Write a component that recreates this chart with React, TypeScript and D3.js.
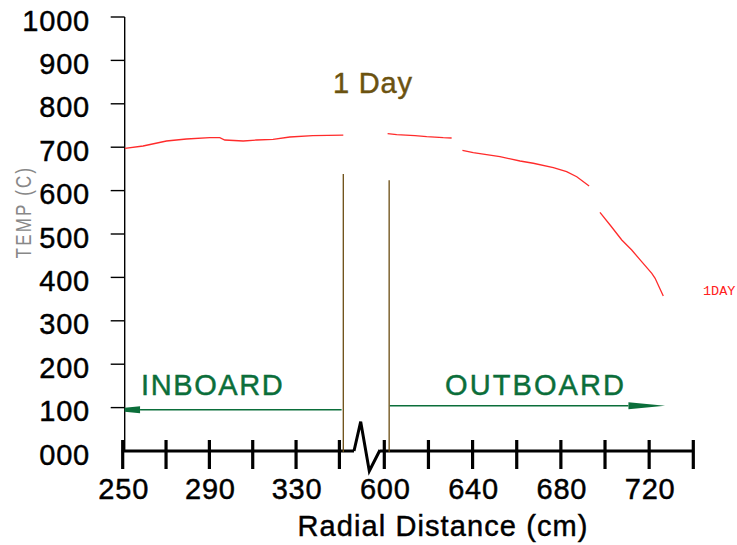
import React from "react";
import * as d3 from "d3";

// ---- data ----
const tempTicks = [0, 100, 200, 300, 400, 500, 600, 700, 800, 900, 1000];
const xTickValues = [250, 270, 290, 310, 330, 350, 600, 620, 640, 660, 680, 700, 720, 740];
const xLabelValues = [250, 290, 330, 600, 640, 680, 720];

// 1 Day temperature profile (null = gap in the trace)
const radius1Day = [251, 259.4, 270.2, 279.4, 290.2, 294.8, 297.1, 305.6, 311.8, 319.4, 327.1, 337.7, 351.8, null,
  601.5, 605.6, 613.9, 619.2, 626.7, 630.5, null,
  635.4, 640.3, 652.4, 661.5, 667.5, 676.6, 682.6, 687.2, 692.8, null,
  697.7, 702.3, 707.6, 712.1, 716.6, 721.2, 722.7, 726.4];
const temp1Day = [697.5, 702.8, 714.3, 718.9, 721.9, 721.9, 716.6, 714.3, 716.6, 718.2, 723.5, 726.5, 727.6, null,
  731.1, 728.8, 726.5, 724.2, 721.9, 721.2, null,
  692.9, 687.3, 678.1, 668.2, 663.0, 652.8, 643.5, 632.0, 610.6, null,
  550.0, 520.7, 486.2, 463.1, 436.2, 409.4, 397.9, 357.1];

// boundary markers at the axis break
const markerRadius = [351.8, 602.2];
const markerTop = [638, 624];

// inboard / outboard arrows: [line end, head base, head tip] radius
const inboardArrow = [351, 258, 250.9];
const outboardArrow = [602.5, 710.6, 727.2];
const inboardLevel = 95;
const outboardLevel = 104;

const W = 737;
const H = 545;

export default function App() {
  const xLeft = d3.scaleLinear().domain([250, 350]).range([122.7, 339.4]);
  const xRight = d3.scaleLinear().domain([600, 740]).range([384.3, 693.3]);
  const x = (v: number) => (v < 475 ? xLeft(v) : xRight(v));
  const y = d3.scaleLinear().domain([0, 1000]).range([451, 17]);
  const fmt = d3.format("03d");

  const pts = radius1Day.map((r, i) => [r, temp1Day[i]] as [number | null, number | null]);
  const line = d3
    .line<[number | null, number | null]>()
    .defined((d) => d[0] != null && d[1] != null)
    .x((d) => x(d[0] as number))
    .y((d) => y(d[1] as number));

  const axisY = 451;
  const yAxisX = 124.7;
  const bigFont = "'Liberation Sans', Arial, sans-serif";
  const heavy = { stroke: "currentColor", strokeWidth: 0.45 } as const;

  const inY = y(inboardLevel);
  const outY = y(outboardLevel);

  return (
    <svg width={W} height={H} style={{ position: "absolute", left: 0, top: 0, background: "#fff" }}>
      {/* y axis */}
      <line x1={yAxisX} x2={yAxisX} y1={y(1000)} y2={axisY} stroke="#000" strokeWidth={1.4} />
      {tempTicks.map((t) => (
        <g key={t} color="#000">
          {t > 0 && (
            <line x1={yAxisX - 14} x2={yAxisX} y1={y(t)} y2={y(t)} stroke="#000" strokeWidth={1.4} />
          )}
          <text
            x={90}
            y={y(t) + 13.5}
            textAnchor="end"
            fontFamily={bigFont}
            fontSize={29}
            letterSpacing={0.8}
            fill="#000"
            {...heavy}
          >
            {fmt(t)}
          </text>
        </g>
      ))}

      {/* y title */}
      <g transform={`translate(31, 212) rotate(-90)`}>
        <text
          x={0}
          y={0}
          textAnchor="middle"
          fontFamily={bigFont}
          fontSize={17}
          letterSpacing={2.2}
          fill="#888"
          transform="scale(1, 1.35)"
        >
          TEMP (C)
        </text>
      </g>

      {/* x axis with break */}
      <line x1={x(250) - 1} x2={354} y1={axisY} y2={axisY} stroke="#000" strokeWidth={3} />
      <line x1={380} x2={x(740)} y1={axisY} y2={axisY} stroke="#000" strokeWidth={3} />
      <polyline
        points={`354,${axisY} 360.7,421.7 369.3,471 380,${axisY - 1}`}
        fill="none"
        stroke="#000"
        strokeWidth={3}
      />
      {xTickValues.map((v) => (
        <line key={v} x1={x(v)} x2={x(v)} y1={440} y2={469} stroke="#000" strokeWidth={3.2} />
      ))}
      <g color="#000">
        {xLabelValues.map((v) => (
          <text
            key={v}
            x={x(v) + 1}
            y={498.5}
            textAnchor="middle"
            fontFamily={bigFont}
            fontSize={29}
            letterSpacing={0.8}
            fill="#000"
            {...heavy}
          >
            {v}
          </text>
        ))}
        <text x={443} y={536} textAnchor="middle" fontFamily={bigFont} fontSize={29} letterSpacing={1.1} fill="#000" {...heavy}>
          Radial Distance (cm)
        </text>
      </g>

      {/* break markers */}
      {markerRadius.map((r, i) => (
        <line key={r} x1={x(r)} x2={x(r)} y1={y(markerTop[i])} y2={axisY + 1} stroke="#6b4c12" strokeWidth={1.3} />
      ))}

      {/* data line */}
      <path d={line(pts) || ""} fill="none" stroke="#ff2b2b" strokeWidth={1.3} />
      <text x={703} y={295} fontFamily="'Liberation Mono', 'DejaVu Sans Mono', monospace" fontSize={13.5} fill="#ff2020">
        1DAY
      </text>

      {/* title */}
      <text x={333} y={93.3} fontFamily={bigFont} fontSize={29} letterSpacing={0.8} fill="#6b5210" color="#6b5210" {...heavy}>
        1 Day
      </text>

      {/* inboard arrow */}
      <line x1={x(inboardArrow[0])} x2={x(inboardArrow[1])} y1={inY} y2={inY} stroke="#0b6e3a" strokeWidth={1.5} />
      <polygon
        points={`${x(inboardArrow[2])},${inY - 2} ${x(inboardArrow[1])},${inY - 3.5} ${x(inboardArrow[1])},${inY + 3.5} ${x(inboardArrow[2])},${inY + 2}`}
        fill="#0b6e3a"
      />
      <text x={141} y={395} fontFamily={bigFont} fontSize={29} letterSpacing={1.6} fill="#0b6e3a" color="#0b6e3a" {...heavy}>
        INBOARD
      </text>

      {/* outboard arrow */}
      <line x1={x(outboardArrow[0])} x2={x(outboardArrow[1])} y1={outY} y2={outY} stroke="#0b6e3a" strokeWidth={1.5} />
      <polygon
        points={`${x(outboardArrow[1])},${outY - 3.5} ${x(outboardArrow[2])},${outY} ${x(outboardArrow[1])},${outY + 3.5}`}
        fill="#0b6e3a"
      />
      <text x={445} y={395} fontFamily={bigFont} fontSize={29} letterSpacing={2.1} fill="#0b6e3a" color="#0b6e3a" {...heavy}>
        OUTBOARD
      </text>
    </svg>
  );
}
